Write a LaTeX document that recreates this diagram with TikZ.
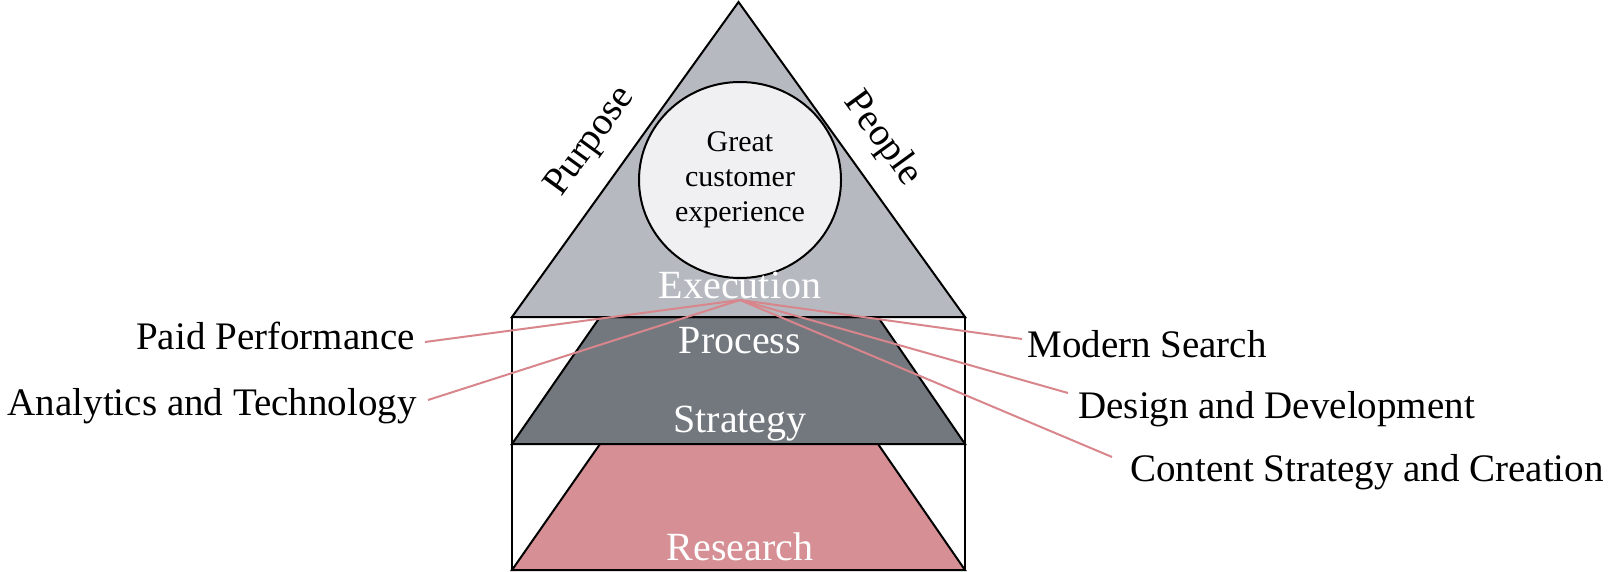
\documentclass[tikz,border=0pt]{standalone}
\usepackage{fontspec}
\setmainfont{Liberation Serif}
\usetikzlibrary{shapes.geometric}
\definecolor{trigray}{RGB}{182,185,192}
\definecolor{darkgray}{RGB}{115,120,126}
\definecolor{pinkfill}{RGB}{214,143,148}
\definecolor{circfill}{RGB}{240,240,242}
\definecolor{linkpink}{RGB}{216,134,140}
\begin{document}
\begin{tikzpicture}[x=0.5pt,y=-0.5pt,
  outline/.style={draw=black,line width=1pt,line join=miter},
  layertext/.style={text=white,font=\fontsize{20}{24}\selectfont,anchor=base,inner sep=0pt},
  labeltext/.style={text=black,font=\fontsize{19.5}{23}\selectfont,inner sep=0pt},
  sidetext/.style={text=black,font=\fontsize{19.5}{23}\selectfont,inner sep=0pt},
  link/.style={draw=linkpink,line width=1pt}]
\useasboundingbox (0,0) rectangle (1615,572);

% boxes
\draw[outline,fill=white] (512,317) rectangle (965,444);
\draw[outline,fill=white] (512,444) rectangle (965,570);
% trapezoids
\draw[outline,fill=darkgray] (600,317) -- (878,317) -- (965,444) -- (512,444) -- cycle;
\draw[outline,fill=pinkfill] (600,444) -- (878,444) -- (965,570) -- (512,570) -- cycle;
% triangle
\draw[outline,fill=trigray] (738.5,2) -- (965,317) -- (512,317) -- cycle;
% circle
\node[ellipse,outline,fill=circfill,minimum width=101pt,minimum height=98pt,inner sep=0pt,
  align=center,font=\fontsize{15}{17.5}\selectfont] (gce) at (740,180)
  {Great\\customer\\experience};

% side texts
\node[sidetext,rotate=54] (purpose) at (591,142) {Purpose};
\node[sidetext,rotate=-54] (people) at (882,139) {People};

% layer texts
\node[layertext] (exec) at (740,298) {Execution};
\node[layertext] (proc) at (740,353) {Process};
\node[layertext] (strat) at (740,432) {Strategy};
\node[layertext] (res) at (740,560) {Research};

% labels
\node[labeltext,anchor=base east] (pp) at (415,349) {Paid Performance};
\node[labeltext,anchor=base east] (at) at (417,415) {Analytics and Technology};
\node[labeltext,anchor=base west] (ms) at (1027,357) {Modern Search};
\node[labeltext,anchor=base west] (dd) at (1078,418) {Design and Development};
\node[labeltext,anchor=base west] (cs) at (1130,481) {Content Strategy and Creation};

% connectors
\coordinate (hub) at (740,300);
\coordinate (pp-end) at (425,342);
\coordinate (at-end) at (428,400);
\coordinate (ms-end) at (1022,339);
\coordinate (dd-end) at (1068,393);
\coordinate (cs-end) at (1112,457);
\draw[link] (hub) -- (pp-end);
\draw[link] (hub) -- (at-end);
\draw[link] (hub) -- (ms-end);
\draw[link] (hub) -- (dd-end);
\draw[link] (hub) -- (cs-end);
\end{tikzpicture}
\end{document}
